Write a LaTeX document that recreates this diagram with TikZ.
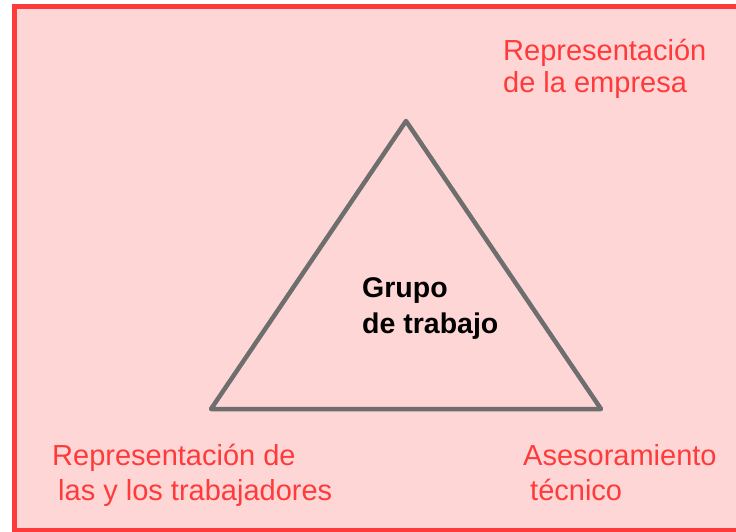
\documentclass[tikz,border=0pt]{standalone}
\usepackage{fontspec}
\setmainfont{Liberation Sans}
\definecolor{panelfill}{HTML}{FFD6D6}
\definecolor{panelred}{HTML}{FF3A3A}
\definecolor{edgegray}{HTML}{6E6E6E}
\tikzset{
	rolelabel/.style={anchor=base west,inner sep=0pt,text=panelred,font=\fontsize{29}{33}\selectfont},
	grouplabel/.style={anchor=base west,inner sep=0pt,text=black,font=\fontsize{28.5}{33}\selectfont\bfseries}
}
\begin{document}
\begin{tikzpicture}[x=1pt,y=-1pt]
		\useasboundingbox (0,0) rectangle (736,532);
		\draw[panelred,fill=panelfill,line width=5pt] (14.5,6.5) rectangle (740,530.5);
		\coordinate (apex) at (406,121);
		\coordinate (baseL) at (211,409);
		\coordinate (baseR) at (601,409);
		\draw[edgegray,line width=4.5pt,line join=round,line cap=round] (apex) -- (baseL) -- (baseR) -- cycle;
		\node[grouplabel] (grupoA) at (362,297) {Grupo};
		\node[grouplabel] (grupoB) at (362,333) {de trabajo};
		\node[rolelabel] (empresaA) at (503,61) {Representación};
		\node[rolelabel] (empresaB) at (503,93) {de la empresa};
		\node[rolelabel] (plantillaA) at (52,465) {Representación de};
		\node[rolelabel] (plantillaB) at (58,500) {las y los trabajadores};
		\node[rolelabel] (tecnicoA) at (523,465) {Asesoramiento};
		\node[rolelabel] (tecnicoB) at (530,500) {técnico};
	\end{tikzpicture}
\end{document}
